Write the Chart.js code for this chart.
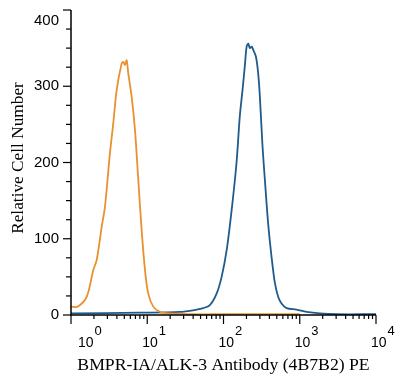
<!DOCTYPE html>
<html>
<head>
<meta charset="utf-8">
<script src="https://cdn.jsdelivr.net/npm/chart.js@4"></script>
<style>
  html, body { margin: 0; padding: 0; background: #fff; }
  #wrap { width: 400px; height: 384px; }
</style>
</head>
<body>
<div id="wrap"><canvas id="chart" width="400" height="384"></canvas></div>
<script>
// isotype control (orange)
const isoX = [1.0, 1.23, 1.61, 1.96, 2.17, 2.53, 2.79, 3.24, 3.58, 3.97, 4.62, 4.85, 5.10, 5.37, 5.64, 6.25, 6.90, 7.63, 8.45, 9.34, 10.3, 12.0, 14.7, 20, 40, 100, 300, 1000];
const isoY = [11, 11, 24, 59, 72, 116, 142, 212, 251, 295, 330, 332, 328, 334, 317, 286, 243, 177, 111, 59, 28, 11, 4, 2, 1, 1, 1, 1];

// antibody stained (blue)
const abX = [1.0, 8.0, 26.8, 44.4, 54.2, 66.3, 81.2, 94.5, 110, 128, 148, 164, 178, 191, 201, 211, 222, 234, 245, 266, 285, 300, 325, 349, 385, 427, 472, 521, 577, 671, 908, 1228, 1834, 3000, 10000];
const abY = [2, 3, 4, 7, 9, 13, 28, 50, 85, 138, 199, 262, 296, 328, 352, 356, 350, 352, 348, 339, 317, 286, 221, 177, 120, 76, 42, 24, 15, 9, 7, 4, 2, 1, 1];

const yTicks = [0, 100, 200, 300, 400];
const yMinorStep = 25;
const xExps = [0, 1, 2, 3, 4];

const toPts = (xs, ys) => xs.map((x, i) => ({ x: x, y: ys[i] }));

const axisPlugin = {
  id: 'axisPlugin',
  afterDraw(chart) {
    const ctx = chart.ctx;
    const xs = chart.scales.x;
    const ys = chart.scales.y;
    const area = chart.chartArea;
    ctx.save();
    ctx.strokeStyle = '#000';
    ctx.fillStyle = '#000';
    ctx.lineWidth = 1.5;

    // axis lines
    ctx.beginPath();
    ctx.moveTo(area.left, area.top);
    ctx.lineTo(area.left, area.bottom);
    ctx.lineTo(area.right, area.bottom);
    ctx.stroke();

    // y ticks
    ctx.lineWidth = 1.2;
    for (let v = 0; v <= 400; v += yMinorStep) {
      const py = ys.getPixelForValue(v);
      const len = v % 100 === 0 ? 8 : 5;
      ctx.beginPath();
      ctx.moveTo(area.left - len, py);
      ctx.lineTo(area.left, py);
      ctx.stroke();
    }
    ctx.font = '15px "Liberation Sans", Arial, sans-serif';
    ctx.textAlign = 'right';
    ctx.textBaseline = 'middle';
    yTicks.forEach(v => {
      const py = Math.max(ys.getPixelForValue(v), area.top + 11);
      ctx.fillText(String(v), area.left - 12, py);
    });

    // x ticks (log decades with minor ticks)
    for (let e = 0; e < 4; e++) {
      for (let m = 1; m <= 9; m++) {
        const px = xs.getPixelForValue(m * Math.pow(10, e));
        const len = m === 1 ? 9 : 4;
        ctx.beginPath();
        ctx.moveTo(px, area.bottom);
        ctx.lineTo(px, area.bottom + len);
        ctx.stroke();
      }
    }
    const pxEnd = xs.getPixelForValue(10000);
    ctx.beginPath();
    ctx.moveTo(pxEnd, area.bottom);
    ctx.lineTo(pxEnd, area.bottom + 9);
    ctx.stroke();

    ctx.textAlign = 'left';
    ctx.textBaseline = 'alphabetic';
    xExps.forEach(e => {
      const px = Math.max(xs.getPixelForValue(Math.pow(10, e)) - 5, 78);
      ctx.font = '14px "Liberation Sans", Arial, sans-serif';
      ctx.fillText('10', px, 347);
      const w = ctx.measureText('10').width;
      ctx.font = '13px "Liberation Sans", Arial, sans-serif';
      ctx.fillText(String(e), px + w + 1, 335);
    });

    // axis titles
    ctx.font = '17.7px "Liberation Serif", "Times New Roman", serif';
    ctx.textAlign = 'center';
    ctx.textBaseline = 'alphabetic';
    ctx.fillText('BMPR-IA/ALK-3 Antibody (4B7B2) PE', (area.left + area.right) / 2, 370);
    ctx.save();
    ctx.font = '17.3px "Liberation Serif", "Times New Roman", serif';
    ctx.translate(23, 158);
    ctx.rotate(-Math.PI / 2);
    ctx.fillText('Relative Cell Number', 0, 0);
    ctx.restore();

    ctx.restore();
  }
};

new Chart(document.getElementById('chart'), {
  type: 'line',
  data: {
    datasets: [
      {
        label: 'Isotype',
        data: toPts(isoX, isoY),
        borderColor: '#E8912D',
        borderWidth: 1.8,
        pointRadius: 0,
        tension: 0.3,
        fill: false,
      },
      {
        label: 'BMPR-IA/ALK-3',
        data: toPts(abX, abY),
        borderColor: '#1F5B8C',
        borderWidth: 1.8,
        pointRadius: 0,
        tension: 0.3,
        fill: false,
      },
    ],
  },
  options: {
    responsive: false,
    animation: false,
    layout: { padding: { left: 71, top: 10, right: 24, bottom: 69 } },
    plugins: { legend: { display: false }, tooltip: { enabled: false } },
    scales: {
      x: { type: 'logarithmic', min: 1, max: 10000, display: false },
      y: { type: 'linear', min: 0, max: 400, display: false },
    },
  },
  plugins: [axisPlugin],
});
</script>
</body>
</html>
